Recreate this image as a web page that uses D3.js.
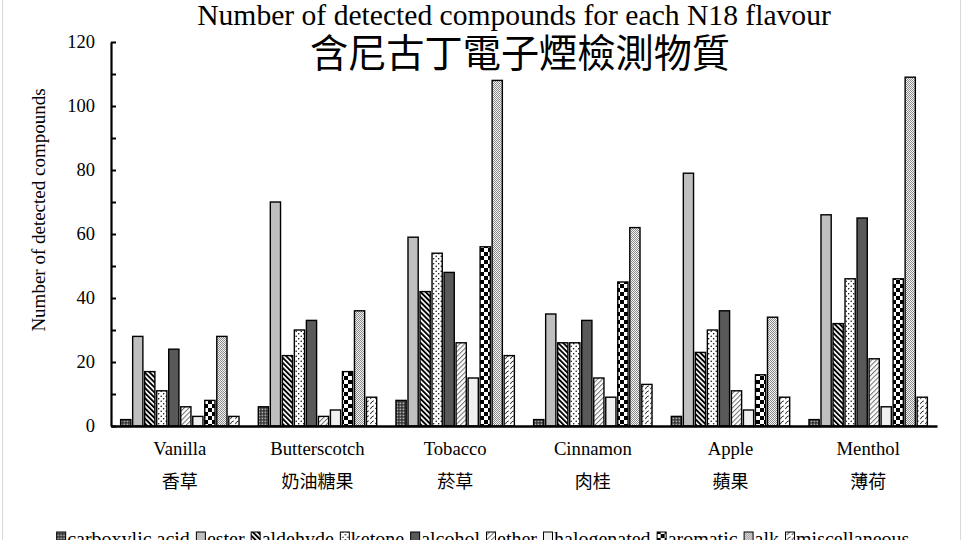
<!DOCTYPE html>
<html>
<head>
<meta charset="utf-8">
<script src="https://cdn.jsdelivr.net/npm/d3@7"></script>
<style>
  html, body { margin: 0; padding: 0; background: #fff; }
  svg { display: block; }
</style>
</head>
<body>
<svg id="chart" width="964" height="540"></svg>
<script>
// ---------- data ----------
const categories   = ["Vanilla", "Butterscotch", "Tobacco", "Cinnamon", "Apple", "Menthol"];
const categoriesZh = ["香草", "奶油糖果", "菸草", "肉桂", "蘋果", "薄荷"];
const seriesNames  = ["carboxylic acid", "ester", "aldehyde", "ketone", "alcohol",
                      "ether", "halogenated", "aromatic", "alk", "miscellaneous"];
const carboxylicAcid = [2, 6, 8, 2, 3, 2];
const ester          = [28, 70, 59, 35, 79, 66];
const aldehyde       = [17, 22, 42, 26, 23, 32];
const ketone         = [11, 30, 54, 26, 30, 46];
const alcohol        = [24, 33, 48, 33, 36, 65];
const ether          = [6, 3, 26, 15, 11, 21];
const halogenated    = [3, 5, 15, 9, 5, 6];
const aromatic       = [8, 17, 56, 45, 16, 46];
const alk            = [28, 36, 108, 62, 34, 109];
const miscellaneous  = [3, 9, 22, 13, 9, 9];
const yTicks = [0, 10, 20, 30, 40, 50, 60, 70, 80, 90, 100, 110, 120];
const titleEn = "Number of detected compounds for each N18 flavour";
const titleZh = "含尼古丁電子煙檢測物質";
const yLabel = "Number of detected compounds";

const seriesValues = [carboxylicAcid, ester, aldehyde, ketone, alcohol,
                      ether, halogenated, aromatic, alk, miscellaneous];

// ---------- setup ----------
const svg = d3.select("#chart");
const serif = "'Liberation Serif', 'Times New Roman', serif";
const cjk = "'Noto Sans CJK TC', 'Noto Sans CJK SC', sans-serif";

const defs = svg.append("defs");
function pat(id, w, h, transform) {
  const p = defs.append("pattern").attr("id", id)
    .attr("patternUnits", "userSpaceOnUse").attr("width", w).attr("height", h);
  if (transform) p.attr("patternTransform", transform);
  return p;
}
// carboxylic acid: dark fine lattice
let p = pat("p0", 3, 3);
p.append("rect").attr("width", 3).attr("height", 3).attr("fill", "#2a2a2a");
p.append("rect").attr("x", 0.5).attr("y", 0.5).attr("width", 1.8).attr("height", 1.8).attr("fill", "#b0b0b0");
// aldehyde: bold black "\\" stripes
p = pat("p2", 3.6, 3.6, "rotate(-45)");
p.append("rect").attr("width", 3.6).attr("height", 3.6).attr("fill", "#fff");
p.append("rect").attr("width", 1.9).attr("height", 3.6).attr("fill", "#000");
// ketone: sparse dots
p = pat("p3", 5, 5);
p.append("rect").attr("width", 5).attr("height", 5).attr("fill", "#fff");
p.append("circle").attr("cx", 1.2).attr("cy", 1.2).attr("r", 0.75).attr("fill", "#000");
p.append("circle").attr("cx", 3.7).attr("cy", 3.7).attr("r", 0.75).attr("fill", "#000");
// ether: thin gray "//" lines
p = pat("p5", 3.4, 3.4, "rotate(45)");
p.append("rect").attr("width", 3.4).attr("height", 3.4).attr("fill", "#fff");
p.append("rect").attr("width", 1).attr("height", 3.4).attr("fill", "#6e6e6e");
// aromatic: large checkerboard
p = pat("p7", 8, 8);
p.append("rect").attr("width", 8).attr("height", 8).attr("fill", "#fff");
p.append("rect").attr("width", 4).attr("height", 4).attr("fill", "#000");
p.append("rect").attr("x", 4).attr("y", 4).attr("width", 4).attr("height", 4).attr("fill", "#000");
// alk: fine gray checker
p = pat("p8", 2, 2);
p.append("rect").attr("width", 2).attr("height", 2).attr("fill", "#f4f4f4");
p.append("rect").attr("width", 1).attr("height", 1).attr("fill", "#8a8a8a");
p.append("rect").attr("x", 1).attr("y", 1).attr("width", 1).attr("height", 1).attr("fill", "#8a8a8a");
// miscellaneous: wavy diagonal dashes
p = pat("p9", 5, 5);
p.append("rect").attr("width", 5).attr("height", 5).attr("fill", "#fff");
p.append("path").attr("d", "M0.3,4.2 Q1.2,1.6 3.8,0.8").attr("fill", "none")
  .attr("stroke", "#222").attr("stroke-width", 1);

const fills = ["url(#p0)", "#bfbfbf", "url(#p2)", "url(#p3)", "#595959",
               "url(#p5)", "#f0f0f0", "url(#p7)", "url(#p8)", "url(#p9)"];

// frame
svg.append("rect").attr("x", 2.5).attr("y", -10).attr("width", 958).attr("height", 570)
  .attr("fill", "none").attr("stroke", "#d9d9d9").attr("stroke-width", 1);

// ---------- scales ----------
const x0 = d3.scaleBand().domain(categories).range([111, 937])
  .paddingInner(0.14).paddingOuter(0.07);
const x1 = d3.scaleBand().domain(seriesNames).range([0, x0.bandwidth()])
  .paddingInner(0.15).paddingOuter(0);
const y = d3.scaleLinear().domain([0, 120]).range([426, 42]);

// ---------- bars ----------
const rows = [];
categories.forEach((c, ci) => {
  seriesNames.forEach((s, si) => rows.push({ c, s, si, v: seriesValues[si][ci] }));
});
svg.append("g").selectAll("rect").data(rows).join("rect")
  .attr("x", d => x0(d.c) + x1(d.s))
  .attr("y", d => y(d.v))
  .attr("width", x1.bandwidth())
  .attr("height", d => y(0) - y(d.v))
  .attr("fill", d => fills[d.si])
  .attr("stroke", "#000").attr("stroke-width", 1.4);

// ---------- axes ----------
const yAxis = d3.axisLeft(y).tickValues(yTicks)
  .tickSizeInner(-5).tickSizeOuter(0).tickPadding(16)
  .tickFormat(d => d % 20 === 0 ? d : "");
const gy = svg.append("g").attr("transform", "translate(111,0)").call(yAxis);
gy.select(".domain").attr("stroke", "#000").attr("stroke-width", 2.2);
gy.selectAll(".tick line").attr("stroke", "#000").attr("stroke-width", 2);
gy.selectAll(".tick text").attr("font-family", serif).attr("font-size", 18.5).attr("fill", "#000");

const xAxis = d3.axisBottom(x0).tickSize(0).tickPadding(0).tickFormat("");
const gx = svg.append("g").attr("transform", "translate(0,426)").call(xAxis);
gx.select(".domain").attr("stroke", "#000").attr("stroke-width", 2.6);

// category labels
const labels = svg.append("g");
labels.selectAll("text.en").data(categories).join("text").attr("class", "en")
  .attr("x", d => x0(d) + x0.bandwidth() / 2).attr("y", 455)
  .attr("text-anchor", "middle").attr("font-family", serif).attr("font-size", 18.7)
  .text(d => d);
labels.selectAll("text.zh").data(categoriesZh).join("text").attr("class", "zh")
  .attr("x", (d, i) => x0(categories[i]) + x0.bandwidth() / 2).attr("y", 488)
  .attr("text-anchor", "middle").attr("font-family", cjk).attr("font-size", 18)
  .text(d => d);

// titles
svg.append("text").attr("x", 514).attr("y", 25).attr("text-anchor", "middle")
  .attr("font-family", serif).attr("font-size", 29.6).text(titleEn);
svg.append("text").attr("x", 520).attr("y", 67).attr("text-anchor", "middle")
  .attr("font-family", cjk).attr("font-size", 38.2).text(titleZh);

// y label
svg.append("text").attr("transform", "translate(45,210) rotate(-90)")
  .attr("text-anchor", "middle").attr("font-family", serif).attr("font-size", 19)
  .text(yLabel);

// ---------- legend ----------
const lg = svg.append("g");
const sw = 9, gapText = 1.5, gapItem = 6.5, lFont = 20;
let cx = 0;
seriesNames.forEach((s, i) => {
  const g = lg.append("g");
  g.append("rect").attr("x", cx).attr("y", -14).attr("width", sw).attr("height", sw)
    .attr("fill", fills[i]).attr("stroke", "#000").attr("stroke-width", 1);
  const t = g.append("text").attr("x", cx + sw + gapText).attr("y", 0)
    .attr("font-family", serif).attr("font-size", lFont).text(s);
  cx += sw + gapText + t.node().getComputedTextLength() + gapItem;
});
const total = cx - gapItem;
lg.attr("transform", `translate(${483 - total / 2},546)`);
</script>
</body>
</html>
